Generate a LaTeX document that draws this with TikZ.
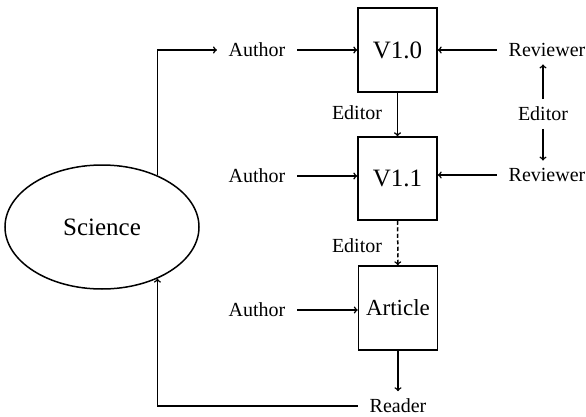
\documentclass[tikz,border=0pt]{standalone}
\usepackage{fontspec}
\setmainfont{Liberation Serif}
\usepackage{tikz}
\usetikzlibrary{shapes}
\usetikzlibrary{shapes.geometric}

\begin{document}
\begin{tikzpicture}[x=1pt,y=-1pt,line width=1.5pt,
	lbl/.style={inner xsep=11pt,inner ysep=7pt,font=\fontsize{20pt}{0}\selectfont},
	ver/.style={draw,rectangle,minimum width=79pt,minimum height=84pt,inner sep=0pt,font=\fontsize{25pt}{0}\selectfont}]
	\useasboundingbox (0,0) rectangle (586,417);

	% science
	\node[draw,ellipse,minimum width=194pt,minimum height=124pt,inner sep=0pt,font=\fontsize{25pt}{0}\selectfont] (sci) at (102,227) {Science};

	% versions
	\node[ver] (v10) at (397.5,50) {V1.0};
	\node[ver,minimum height=83pt] (v11) at (397.5,178.5) {V1.1};
	\node[ver,font=\fontsize{23pt}{0}\selectfont] (art) at (398,308) {Article};

	% people
	\node[lbl] (au1) at (257,50) {Author};
	\node[lbl] (au2) at (257,176) {Author};
	\node[lbl] (au3) at (257,310) {Author};
	\node[lbl] (rv1) at (547,50) {Reviewer};
	\node[lbl] (rv2) at (547,175) {Reviewer};
	\node[lbl] (ed1) at (357,113) {Editor};
	\node[lbl] (ed2) at (357,246) {Editor};
	\node[lbl] (ed3) at (543,114) {Editor};
	\node[lbl] (rd) at (398,406) {Reader};

	\draw[->] (sci.43) |- (au1);
	\draw[->] (au1) -- (au1 -| v10.west);
	\draw[->] (au2) -- (au2 -| v11.west);
	\draw[->] (au3) -- (au3 -| art.west);
	\draw[->] (rv1) -- (rv1 -| v10.east);
	\draw[->] (rv2) -- (rv2 -| v11.east);
	\draw[->] (ed3) -- (ed3 |- rv1.south);
	\draw[->] (ed3) -- (ed3 |- rv2.north);
	\draw[->] (v10) -- (v11);
	\draw[->,dash pattern=on 4pt off 2.5pt] (v11) -- (art);
	\draw[->] (art) -- (rd);
	\draw[->] (rd) -| (sci.-43);

\end{tikzpicture}
\end{document}
